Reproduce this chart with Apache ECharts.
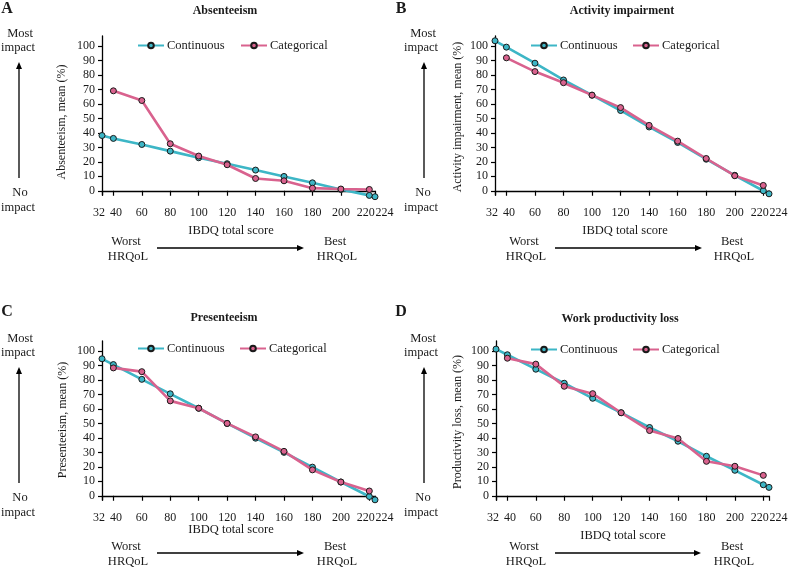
<!DOCTYPE html>
<html><head><meta charset="utf-8">
<script src="https://cdn.jsdelivr.net/npm/echarts@6/dist/echarts.min.js"></script>
<style>html,body{margin:0;padding:0;background:#fff}#c{width:790px;height:568px}</style>
</head><body><div id="c"></div>
<script>
// ---- data ----
const xTicks = [32, 40, 60, 80, 100, 120, 140, 160, 180, 200, 220, 224];
const yTicks = [0, 10, 20, 30, 40, 50, 60, 70, 80, 90, 100];
const xCont = [32, 40, 60, 80, 100, 120, 140, 160, 180, 200, 220, 224];
const xCat = [40, 60, 80, 100, 120, 140, 160, 180, 200, 220];

const contA = [38.2, 36.2, 32.0, 27.4, 22.8, 18.7, 14.3, 9.9, 5.5, 0.9, -3.2, -4.1];
const catA = [69.1, 62.4, 32.5, 24.0, 18.0, 8.5, 6.9, 1.8, 1.2, 0.9];
const contB = [103.7, 99.3, 88.2, 76.6, 66.1, 55.5, 44.1, 33.4, 21.8, 10.7, 0.0, -2.1];
const catB = [91.9, 82.4, 74.7, 66.1, 57.5, 45.2, 34.3, 22.3, 10.4, 3.7];
const contC = [94.7, 90.7, 80.5, 70.5, 60.5, 50.0, 39.8, 30.0, 19.8, 9.5, -0.5, -2.8];
const catC = [88.4, 85.8, 65.6, 60.5, 50.0, 40.7, 30.7, 17.9, 9.5, 3.3];
const contD = [101.4, 97.5, 87.5, 77.8, 67.4, 57.4, 47.2, 37.7, 27.3, 17.6, 7.6, 5.8];
const catD = [95.1, 91.0, 75.7, 70.6, 57.4, 45.1, 39.6, 23.8, 20.4, 14.1];

const panelLetters = ['A', 'B', 'C', 'D'];
const panelTitles = ['Absenteeism', 'Activity impairment', 'Presenteeism', 'Work productivity loss'];
const yNames = ['Absenteeism, mean (%)', 'Activity impairment, mean (%)', 'Presenteeism, mean (%)', 'Productivity loss, mean (%)'];
const xName = 'IBDQ total score';
const seriesNames = ['Continuous', 'Categorical'];

// ---- styling / layout ----
const FONT = 'Liberation Serif';
const TXT = '#1a1a1a';
const COL_CONT = '#3db6c6';
const COL_CAT = '#d9628e';

const panels = [
  {left: 102, top: 36, width: 273, letter: [7, 9], title: [225, 11], most: 20, arrowX: 19, yname: [62, 122], xname: [231, 231], worst: 127, harrow: [157, 304], best: 336, legA: 137, legB: 240, legY: 44},
  {left: 495, top: 36, width: 274, letter: [401, 9], title: [622, 11], most: 423, arrowX: 424, yname: [458, 117], xname: [625, 231], worst: 525, harrow: [555, 702], best: 733, legA: 530, legB: 632, legY: 44},
  {left: 102, top: 341, width: 273, letter: [7, 312], title: [224, 318], most: 20, arrowX: 19, yname: [63, 420], xname: [231, 530], worst: 127, harrow: [157, 304], best: 336, legA: 137, legB: 239, legY: 347},
  {left: 496, top: 341, width: 273, letter: [401, 312], title: [620, 319], most: 423, arrowX: 424, yname: [458, 422], xname: [623, 536], worst: 525, harrow: [555, 701], best: 733, legA: 530, legB: 632, legY: 348}
];
const YMIN = -3, YMAX = 107, PXU = 1.4464;
const GH = (YMAX - YMIN) * PXU;

const contData = [contA, contB, contC, contD];
const catData = [catA, catB, catC, catD];

const grid = [], xAxis = [], yAxis = [], series = [], legend = [], graphic = [];

function txt(x, y, s, size, bold, extra) {
  return Object.assign({
    type: 'text', x: x, y: y, silent: true,
    style: {text: s, fill: TXT, font: (bold ? 'bold ' : '') + size + 'px "' + FONT + '"', textAlign: 'center', textVerticalAlign: 'middle'}
  }, extra || {});
}
function line(x1, y1, x2, y2) {
  return {type: 'line', silent: true, shape: {x1: x1, y1: y1, x2: x2, y2: y2}, style: {stroke: '#000', lineWidth: 1.3}};
}
function poly(pts) {
  return {type: 'polygon', silent: true, shape: {points: pts}, style: {fill: '#000'}};
}

const labelFmt = v => v === 32 ? '{a|32}' : v === 40 ? '{b|40}' : v === 220 ? '{c|220}' : v === 224 ? '{d|224}' : '{n|' + v + '}';
const labelRich = {
  a: {padding: [0, 6, 0, 0], fontFamily: FONT, fontSize: 12, color: TXT},
  b: {padding: [0, 0, 0, 5], fontFamily: FONT, fontSize: 12, color: TXT},
  c: {padding: [0, 7, 0, 0], fontFamily: FONT, fontSize: 12, color: TXT},
  d: {padding: [0, 0, 0, 19], fontFamily: FONT, fontSize: 12, color: TXT},
  n: {fontFamily: FONT, fontSize: 12, color: TXT}
};
const mainLabels = xTicks.slice(0, -1);
const endLabels = xTicks.slice(-1);

panels.forEach((p, i) => {
  const dy = p.top - 36; // vertical offset of panel
  grid.push({left: p.left, top: p.top, width: p.width, height: GH, containLabel: false, outerBoundsMode: 'none'});
  // main x axis (line, ticks, labels up to 220)
  xAxis.push({
    type: 'value', gridIndex: i, min: 32, max: 224, position: 'bottom',
    axisLine: {onZero: true, lineStyle: {color: '#000', width: 1.3}},
    axisTick: {customValues: xTicks, length: 5, lineStyle: {color: '#000', width: 1.2}},
    axisLabel: {
      customValues: mainLabels, margin: 12, color: TXT, fontFamily: FONT, fontSize: 12,
      showMinLabel: true, showMaxLabel: true, hideOverlap: false,
      formatter: labelFmt, rich: labelRich
    },
    splitLine: {show: false}
  });
  // companion x axis carrying only the end label (224)
  xAxis.push({
    type: 'value', gridIndex: i, min: 32, max: 224, position: 'bottom', offset: 0,
    axisLine: {show: false, onZero: false},
    axisTick: {show: false},
    axisLabel: {
      customValues: endLabels, margin: 12, color: TXT, fontFamily: FONT, fontSize: 12,
      showMinLabel: true, showMaxLabel: true, hideOverlap: false,
      formatter: labelFmt, rich: labelRich
    },
    splitLine: {show: false}
  });
  yAxis.push({
    type: 'value', gridIndex: i, min: YMIN, max: YMAX,
    axisLine: {show: true, onZero: false, lineStyle: {color: '#000', width: 1.3}},
    axisTick: {show: true, customValues: yTicks, length: 4, lineStyle: {color: '#000', width: 1.2}},
    axisLabel: {customValues: yTicks, margin: 7, color: TXT, fontFamily: FONT, fontSize: 12},
    splitLine: {show: false}
  });
  const sym = {symbol: 'circle', symbolSize: 6, clip: false, animation: false};
  series.push(Object.assign({
    name: seriesNames[0], type: 'line', xAxisIndex: 2 * i, yAxisIndex: i, z: 2,
    data: xCont.map((x, k) => [x, contData[i][k]]),
    lineStyle: {color: COL_CONT, width: 2.6},
    itemStyle: {color: COL_CONT, borderColor: '#1a1a1a', borderWidth: 1}
  }, sym));
  series.push(Object.assign({
    name: seriesNames[1], type: 'line', xAxisIndex: 2 * i, yAxisIndex: i, z: 3,
    data: xCat.map((x, k) => [x, catData[i][k]]),
    lineStyle: {color: COL_CAT, width: 2.6},
    itemStyle: {color: COL_CAT, borderColor: '#1a1a1a', borderWidth: 1}
  }, sym));
  [[seriesNames[0], p.legA], [seriesNames[1], p.legB]].forEach(([nm, lx]) => {
    legend.push({
      data: [nm], left: lx, top: p.legY - 5, padding: 0, itemWidth: 26, itemHeight: 7, itemGap: 0,
      selectedMode: false,
      textStyle: {color: TXT, fontFamily: FONT, fontSize: 12.5, padding: [0, 0, 0, -2]}
    });
  });

  // texts
  graphic.push(txt(p.letter[0], p.letter[1], panelLetters[i], 16, true));
  graphic.push(txt(p.title[0], p.title[1], panelTitles[i], 12, true));
  graphic.push(txt(p.most, 34 + dy, 'Most', 12.5, false));
  graphic.push(txt(p.most - 2, 48 + dy, 'impact', 12.5, false));
  graphic.push(txt(p.most, 193 + dy, 'No', 12.5, false));
  graphic.push(txt(p.most - 2, 208 + dy, 'impact', 12.5, false));
  graphic.push(line(p.arrowX, 178 + dy, p.arrowX, 68 + dy));
  graphic.push(poly([[p.arrowX, 62 + dy], [p.arrowX - 3, 69 + dy], [p.arrowX + 3, 69 + dy]]));
  graphic.push(txt(p.yname[0], p.yname[1], yNames[i], 12, false, {rotation: Math.PI / 2}));
  graphic.push(txt(p.xname[0], p.xname[1], xName, 12.5, false));
  graphic.push(txt(p.worst - 1, 242 + dy, 'Worst', 12.5, false));
  graphic.push(txt(p.worst + 1, 257 + dy, 'HRQoL', 12.5, false));
  graphic.push(txt(p.best - 1, 242 + dy, 'Best', 12.5, false));
  graphic.push(txt(p.best + 1, 257 + dy, 'HRQoL', 12.5, false));
  graphic.push(line(p.harrow[0], 248 + dy, p.harrow[1] - 6, 248 + dy));
  graphic.push(poly([[p.harrow[1], 248 + dy], [p.harrow[1] - 7, 245 + dy], [p.harrow[1] - 7, 251 + dy]]));
});

const chart = echarts.init(document.getElementById('c'), null, {renderer: 'canvas'});
chart.setOption({
  animation: false,
  backgroundColor: '#fff',
  grid: grid, xAxis: xAxis, yAxis: yAxis, series: series, legend: legend,
  graphic: graphic
});
</script>
</body></html>
